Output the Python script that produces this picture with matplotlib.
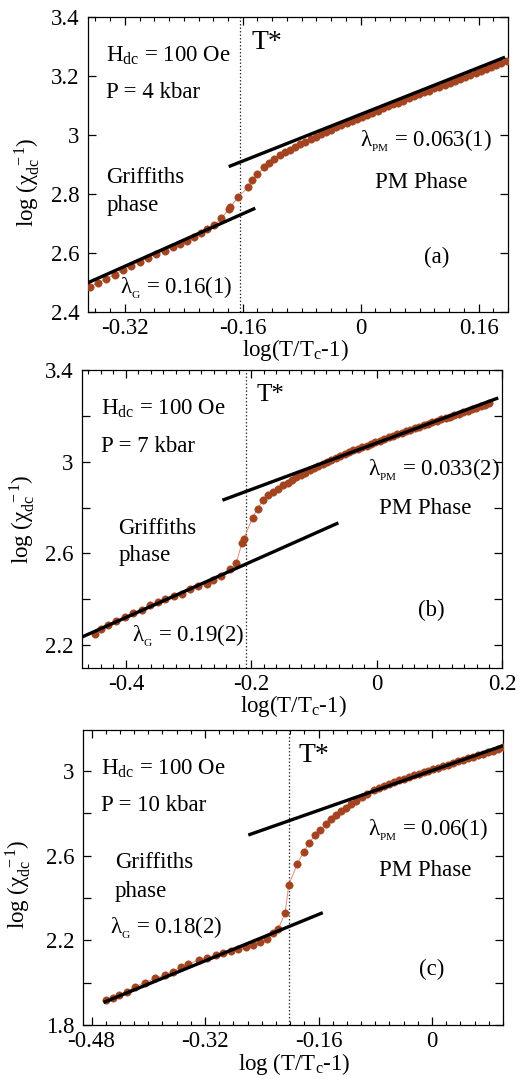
import matplotlib
matplotlib.use("Agg")
import matplotlib.pyplot as plt
from matplotlib.ticker import MultipleLocator, FuncFormatter

plt.rcParams['font.family'] = ['Liberation Serif', 'DejaVu Serif']
plt.rcParams['mathtext.fontset'] = 'custom'
plt.rcParams['mathtext.rm'] = 'Liberation Serif'
plt.rcParams['mathtext.it'] = 'Liberation Serif:italic'
plt.rcParams['axes.unicode_minus'] = False

# ---- (a) P = 4 kbar ----
xa = [-0.367, -0.356, -0.346, -0.334, -0.323, -0.312, -0.300, -0.289, -0.278, -0.266,
      -0.255, -0.245, -0.235, -0.226, -0.217, -0.208, -0.199, -0.189, -0.179, -0.177,
      -0.166, -0.153, -0.147, -0.140, -0.131, -0.124, -0.117, -0.110,
      -0.103, -0.096, -0.089, -0.082, -0.075, -0.068, -0.061, -0.054, -0.047, -0.040,
      -0.033, -0.026, -0.019, -0.012, -0.005, 0.002, 0.009, 0.016, 0.023, 0.030,
      0.037, 0.044, 0.051, 0.058, 0.065, 0.072, 0.079, 0.086, 0.093, 0.100,
      0.107, 0.114, 0.121, 0.128, 0.135, 0.142, 0.149, 0.156, 0.163, 0.170,
      0.177, 0.184, 0.191, 0.198]
ya = [2.486, 2.499, 2.512, 2.527, 2.542, 2.556, 2.571, 2.583, 2.596, 2.608,
      2.621, 2.632, 2.642, 2.654, 2.667, 2.680, 2.695, 2.718, 2.748, 2.755,
      2.791, 2.823, 2.847, 2.867, 2.890, 2.904, 2.918, 2.932,
      2.942, 2.951, 2.960, 2.969, 2.978, 2.987, 2.995, 3.003, 3.010, 3.018,
      3.026, 3.033, 3.041, 3.048, 3.055, 3.062, 3.069, 3.076, 3.083, 3.090,
      3.097, 3.104, 3.110, 3.117, 3.124, 3.131, 3.138, 3.145, 3.151, 3.158,
      3.164, 3.171, 3.177, 3.184, 3.190, 3.197, 3.203, 3.210, 3.217, 3.224,
      3.231, 3.237, 3.244, 3.252]
fitG_a_x = [-0.375, -0.143]
fitG_a_y = [2.494, 2.752]
fitPM_a_x = [-0.179, 0.196]
fitPM_a_y = [2.893, 3.264]
tstar_a = -0.164

# ---- (b) P = 7 kbar ----
xb = [-0.450, -0.439, -0.428, -0.415, -0.402, -0.388, -0.375, -0.362, -0.348, -0.338,
      -0.324, -0.311, -0.298, -0.285, -0.271, -0.261, -0.249, -0.234, -0.224, -0.215,
      -0.212, -0.198, -0.190, -0.181, -0.173, -0.165, -0.157, -0.149,
      -0.142, -0.135, -0.128, -0.121, -0.114, -0.107, -0.100, -0.093, -0.086, -0.079,
      -0.072, -0.065, -0.058, -0.051, -0.044, -0.037, -0.030, -0.023, -0.016, -0.009,
      -0.002, 0.005, 0.012, 0.019, 0.026, 0.033, 0.040, 0.047, 0.054, 0.061,
      0.068, 0.075, 0.082, 0.089, 0.096, 0.103, 0.110, 0.117, 0.124, 0.131,
      0.138, 0.145, 0.152, 0.159, 0.166, 0.173, 0.180]
yb = [2.248, 2.272, 2.286, 2.304, 2.322, 2.341, 2.355, 2.374, 2.389, 2.399,
      2.414, 2.424, 2.443, 2.458, 2.468, 2.483, 2.502, 2.531, 2.556, 2.644,
      2.663, 2.755, 2.795, 2.832, 2.853, 2.868, 2.883, 2.897,
      2.908, 2.920, 2.932, 2.942, 2.952, 2.962, 2.972, 2.981, 2.990, 2.999,
      3.008, 3.017, 3.026, 3.034, 3.042, 3.049, 3.056, 3.063, 3.070, 3.077,
      3.084, 3.091, 3.099, 3.106, 3.112, 3.119, 3.126, 3.132, 3.139, 3.146,
      3.152, 3.159, 3.166, 3.172, 3.179, 3.185, 3.191, 3.197, 3.203, 3.209,
      3.215, 3.222, 3.229, 3.235, 3.242, 3.248, 3.255]
fitG_b_x = [-0.471, -0.061]
fitG_b_y = [2.234, 2.733]
fitPM_b_x = [-0.246, 0.194]
fitPM_b_y = [2.832, 3.278]
tstar_b = -0.208

# ---- (c) P = 10 kbar ----
xc = [-0.459, -0.450, -0.441, -0.430, -0.419, -0.405, -0.391, -0.377, -0.365, -0.354,
      -0.344, -0.329, -0.317, -0.305, -0.294, -0.284, -0.273, -0.262, -0.252, -0.242,
      -0.233, -0.224, -0.217, -0.207, -0.202, -0.190, -0.181, -0.173, -0.165, -0.158,
      -0.149, -0.143, -0.135, -0.129, -0.121, -0.114, -0.107, -0.099, -0.092, -0.082,
      -0.075, -0.068, -0.061, -0.054, -0.047, -0.040, -0.033, -0.026, -0.019, -0.012,
      -0.005, 0.002, 0.009, 0.016, 0.023, 0.030, 0.037, 0.044, 0.051, 0.058,
      0.065, 0.072, 0.079, 0.086, 0.093, 0.100]
yc = [1.918, 1.930, 1.944, 1.955, 1.981, 2.000, 2.020, 2.036, 2.052, 2.076,
      2.088, 2.107, 2.118, 2.131, 2.142, 2.151, 2.161, 2.170, 2.180, 2.192,
      2.205, 2.233, 2.252, 2.331, 2.461, 2.561, 2.619, 2.661, 2.698, 2.724,
      2.750, 2.772, 2.792, 2.813, 2.828, 2.844, 2.860, 2.876, 2.891, 2.910,
      2.920, 2.929, 2.939, 2.947, 2.956, 2.964, 2.973, 2.980, 2.988, 2.995,
      3.002, 3.010, 3.017, 3.024, 3.031, 3.039, 3.046, 3.053, 3.060, 3.068,
      3.076, 3.083, 3.090, 3.097, 3.105, 3.112]
fitG_c_x = [-0.463, -0.154]
fitG_c_y = [1.907, 2.331]
fitPM_c_x = [-0.259, 0.100]
fitPM_c_y = [2.698, 3.120]
tstar_c = -0.201

BROWN = '#a4431f'
FS = 16.5


def tidy(v, pos=None):
    return '%g' % (round(v, 3) + 0.0)


def every_other(base):
    # label only every second major tick, starting from base
    def fmt(v, pos=None):
        k = (v - base) / 0.4
        if abs(k - round(k)) < 1e-6:
            return tidy(v)
        return ''
    return fmt


def draw_panel(ax, x, y, gx, gy, px, py, tstar):
    ax.plot(x, y, '-', color='#dc8f78', lw=0.7, zorder=2)
    ax.plot(x, y, 'o', color=BROWN, ms=5.3, mec=BROWN, mew=0.4, zorder=3)
    ax.plot(gx, gy, '-', color='black', lw=2.4, zorder=4, solid_capstyle='butt')
    ax.plot(px, py, '-', color='black', lw=2.4, zorder=4, solid_capstyle='butt')
    ax.axvline(tstar, color='#333333', ls=(0, (1.2, 1.6)), lw=0.9, zorder=1)
    ax.xaxis.set_minor_locator(MultipleLocator(0.02))
    ax.xaxis.set_major_formatter(FuncFormatter(tidy))
    ax.tick_params(which='both', direction='in', top=True, right=True, labelsize=FS)
    ax.tick_params(which='major', length=6, width=0.9)
    ax.tick_params(which='minor', length=3, width=0.8)
    ax.tick_params(axis='x', pad=4)
    ax.tick_params(axis='y', pad=6)
    for s in ax.spines.values():
        s.set_linewidth(0.9)


fig = plt.figure(figsize=(5.23, 10.79), dpi=100)

ylab = 'log (χ$_{\\rm dc}^{\\ \\,-1}$)'

# (a)
ax = fig.add_axes([0.1683, 0.7108, 0.8030, 0.2734])
draw_panel(ax, xa, ya, fitG_a_x, fitG_a_y, fitPM_a_x, fitPM_a_y, tstar_a)
ax.set_xlim(-0.37, 0.2)
ax.set_ylim(2.4, 3.4)
ax.xaxis.set_major_locator(MultipleLocator(0.16))
ax.yaxis.set_major_locator(MultipleLocator(0.2))
ax.yaxis.set_major_formatter(FuncFormatter(tidy))
ax.set_xlabel('log(T/T$_{\\rm c}$-1)', fontsize=FS, va='top')
ax.xaxis.set_label_coords(0.493, -0.085)
ax.set_ylabel(ylab, fontsize=FS)
ax.yaxis.set_label_coords(-0.11, 0.44)
ax.text(-0.345, 3.247, 'H$_{\\rm dc}$ = 100 Oe', fontsize=FS, va='baseline')
ax.text(-0.345, 3.125, 'P = 4 kbar', fontsize=FS, va='baseline')
ax.text(-0.345, 2.837, 'Griffiths', fontsize=FS, va='baseline')
ax.text(-0.345, 2.742, 'phase', fontsize=FS, va='baseline')
ax.text(-0.148, 3.29, 'T*', fontsize=20, va='baseline')
ax.text(-0.001, 2.963, 'λ$_{_{\\rm PM}}$ = 0.063(1)', fontsize=FS, va='baseline')
ax.text(0.020, 2.820, 'PM Phase', fontsize=FS, va='baseline')
ax.text(0.086, 2.566, '(a)', fontsize=FS, va='baseline')
ax.text(-0.326, 2.464, 'λ$_{_{\\rm G}}$ = 0.16(1)', fontsize=FS, va='baseline')

# (b)
ax = fig.add_axes([0.1568, 0.3809, 0.8030, 0.2762])
draw_panel(ax, xb, yb, fitG_b_x, fitG_b_y, fitPM_b_x, fitPM_b_y, tstar_b)
ax.set_xlim(-0.47, 0.2)
ax.set_ylim(2.1, 3.4)
ax.xaxis.set_major_locator(MultipleLocator(0.2))
ax.yaxis.set_major_locator(MultipleLocator(0.2))
ax.yaxis.set_major_formatter(FuncFormatter(every_other(2.2)))
ax.set_xlabel('log(T/T$_{\\rm c}$-1)', fontsize=FS, va='top')
ax.xaxis.set_label_coords(0.503, -0.084)
ax.set_ylabel(ylab, fontsize=FS)
ax.yaxis.set_label_coords(-0.107, 0.50)
ax.text(-0.440, 3.205, 'H$_{\\rm dc}$ = 100 Oe', fontsize=FS, va='baseline')
ax.text(-0.440, 3.044, 'P = 7 kbar', fontsize=FS, va='baseline')
ax.text(-0.412, 2.685, 'Griffiths', fontsize=FS, va='baseline')
ax.text(-0.412, 2.565, 'phase', fontsize=FS, va='baseline')
ax.text(-0.1915, 3.264, 'T*', fontsize=18, va='baseline')
ax.text(-0.0144, 2.941, 'λ$_{_{\\rm PM}}$ = 0.033(2)', fontsize=FS, va='baseline')
ax.text(0.0037, 2.770, 'PM Phase', fontsize=FS, va='baseline')
ax.text(0.0665, 2.326, '(b)', fontsize=FS, va='baseline')
ax.text(-0.391, 2.216, 'λ$_{_{\\rm G}}$ = 0.19(2)', fontsize=FS, va='baseline')

# (c)
ax = fig.add_axes([0.1587, 0.0500, 0.8030, 0.2734])
draw_panel(ax, xc, yc, fitG_c_x, fitG_c_y, fitPM_c_x, fitPM_c_y, tstar_c)
ax.set_xlim(-0.492, 0.1)
ax.set_ylim(1.8, 3.194)
ax.xaxis.set_major_locator(MultipleLocator(0.16))
ax.yaxis.set_major_locator(MultipleLocator(0.2))
ax.yaxis.set_major_formatter(FuncFormatter(every_other(1.8)))
ax.set_xlabel('log (T/T$_{\\rm c}$-1)', fontsize=FS, va='top')
ax.xaxis.set_label_coords(0.502, -0.088)
ax.set_ylabel(ylab, fontsize=FS)
ax.yaxis.set_label_coords(-0.119, 0.478)
ax.text(-0.466, 2.984, 'H$_{\\rm dc}$ = 100 Oe', fontsize=FS, va='baseline')
ax.text(-0.466, 2.811, 'P = 10 kbar', fontsize=FS, va='baseline')
ax.text(-0.447, 2.540, 'Griffiths', fontsize=FS, va='baseline')
ax.text(-0.447, 2.406, 'phase', fontsize=FS, va='baseline')
ax.text(-0.188, 3.044, 'T*', fontsize=20, va='baseline')
ax.text(-0.0904, 2.698, 'λ$_{_{\\rm PM}}$ = 0.06(1)', fontsize=FS, va='baseline')
ax.text(-0.0744, 2.505, 'PM Phase', fontsize=FS, va='baseline')
ax.text(-0.0179, 2.036, '(c)', fontsize=FS, va='baseline')
ax.text(-0.454, 2.233, 'λ$_{_{\\rm G}}$ = 0.18(2)', fontsize=FS, va='baseline')

fig.savefig('out.png', dpi=100)
